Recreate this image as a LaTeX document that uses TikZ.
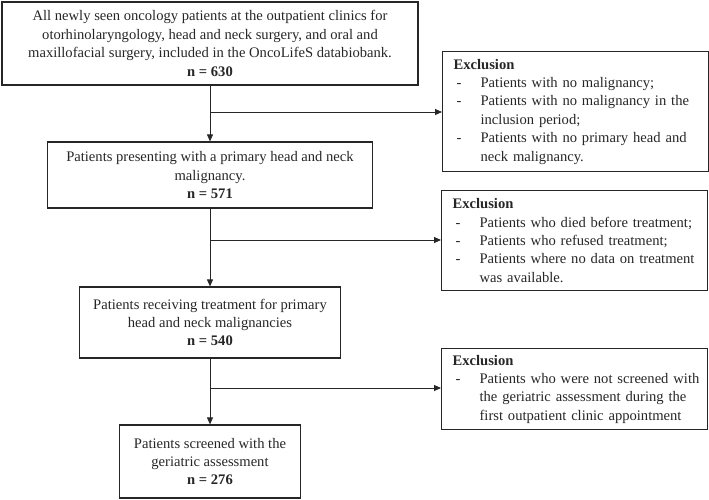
\documentclass[tikz,border=0pt]{standalone}
\usepackage{fontspec}
\setmainfont{Liberation Serif}
\usetikzlibrary{arrows.meta}
\definecolor{ink}{HTML}{262626}
\newcommand\xdash[1]{\mbox{\makebox[27pt][l]{\hspace{3pt}-}#1}}
\newcommand\xind[1]{\mbox{\hspace*{27pt}#1}}
\begin{document}
\begin{tikzpicture}[x=1pt,y=-1pt,
  every node/.style={font=\fontsize{14.6}{18.4}\selectfont, text=ink},
  mainbox/.style={draw=ink, line width=1.2pt, align=center, inner sep=0pt},
  exclbox/.style={draw=ink, line width=1.2pt, align=left, anchor=north west, inner xsep=11pt, inner ysep=0pt, text width=244pt},
  arr/.style={draw=ink, line width=0.8pt, -{Triangle[length=7pt,width=6pt]}}]
\useasboundingbox (0,0) rectangle (709,499);
\node[mainbox, minimum width=416pt, minimum height=83pt] (n1) at (210,43.5)
  {All newly seen oncology patients at the outpatient clinics for\\
   otorhinolaryngology, head and neck surgery, and oral and\\
   maxillofacial surgery, included in the OncoLifeS databiobank.\\
   \textbf{n = 630}};
\node[mainbox, minimum width=325pt, minimum height=66pt] (n2) at (210,175)
  {Patients presenting with a primary head and neck\\ malignancy.\\ \textbf{n = 571}};
\node[mainbox, minimum width=261pt, minimum height=71pt] (n3) at (210,322.5)
  {Patients receiving treatment for primary\\ head and neck malignancies\\ \textbf{n = 540}};
\node[mainbox, minimum width=181pt, minimum height=73pt] (n4) at (210,461.5)
  {Patients screened with the\\ geriatric assessment\\ \textbf{n = 276}};
\node[exclbox, minimum height=120pt] (e1) at (442,51)
  {\textbf{Exclusion}\\
   \xdash{Patients with no malignancy;}\\
   \xdash{Patients with no malignancy in the}\\
   \xind{inclusion period;}\\
   \xdash{Patients with no primary head and}\\
   \xind{neck malignancy.}};
\node[exclbox, minimum height=100pt] (e2) at (441,190)
  {\textbf{Exclusion}\\
   \xdash{Patients who died before treatment;}\\
   \xdash{Patients who refused treatment;}\\
   \xdash{Patients where no data on treatment}\\
   \xind{was available.}};
\node[exclbox, minimum height=81pt] (e3) at (441,348)
  {\textbf{Exclusion}\\
   \xdash{Patients who were not screened with}\\
   \xind{the geriatric assessment during the}\\
   \xind{first outpatient clinic appointment}};
\coordinate (b1) at (210,112);
\coordinate (b2) at (210,240);
\coordinate (b3) at (210,388);
\draw[arr] (n1.south) -- (n2.north);
\draw[arr] (n2.south) -- (n3.north);
\draw[arr] (n3.south) -- (n4.north);
\draw[arr] (b1) -- (b1 -| e1.west);
\draw[arr] (b2) -- (b2 -| e2.west);
\draw[arr] (b3) -- (b3 -| e3.west);
\end{tikzpicture}
\end{document}
